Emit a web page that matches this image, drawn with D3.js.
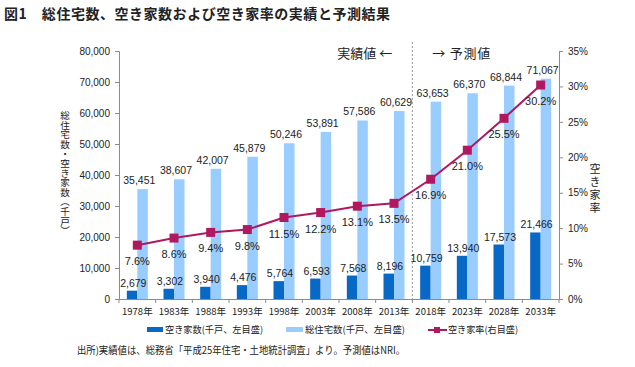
<!DOCTYPE html>
<html>
<head>
<meta charset="utf-8">
<script src="https://cdn.jsdelivr.net/npm/d3@7"></script>
<style>
body { margin: 0; background: #fff; }
text { font-family: "Noto Sans CJK JP", "Noto Sans", sans-serif; }
</style>
</head>
<body>
<div class="chart-area"></div>
<script>
// data
let years = ["1978年","1983年","1988年","1993年","1998年","2003年","2008年","2013年","2018年","2023年","2028年","2033年"];
let vacant = [2679, 3302, 3940, 4476, 5764, 6593, 7568, 8196, 10759, 13940, 17573, 21466];
let total = [35451, 38607, 42007, 45879, 50246, 53891, 57586, 60629, 63653, 66370, 68844, 71067];
let rate = [7.6, 8.6, 9.4, 9.8, 11.5, 12.2, 13.1, 13.5, 16.9, 21.0, 25.5, 30.2];
let leftTicks = [0, 10000, 20000, 30000, 40000, 50000, 60000, 70000, 80000];
let rightTicks = [0, 5, 10, 15, 20, 25, 30, 35];

let W = 635, H = 367;
let plotL = 119, plotR = 559, plotT = 51, plotB = 299;

let svg = d3.select(".chart-area").append("svg")
    .attr("width", W)
    .attr("height", H);

let x = d3.scaleBand().domain(years).range([plotL, plotR]);
let yL = d3.scaleLinear().domain([0, 80000]).range([plotB, plotT]);
let yR = d3.scaleLinear().domain([0, 35]).range([plotB, plotT]);

let darkBlue = "#0868c6", lightBlue = "#99ccff", lineCol = "#b0185f";
let axisCol = "#8c8c8c";
let numFont = "Arial, 'Liberation Sans', sans-serif";

// title
svg.append("text")
    .attr("x", 4).attr("y", 19)
    .attr("font-size", 14).attr("font-weight", "bold").attr("fill", "#222")
    .attr("textLength", 386).attr("lengthAdjust", "spacing")
    .text("図1　総住宅数、空き家数および空き家率の実績と予測結果");

// left axis
let gL = svg.append("g").attr("transform", "translate(" + plotL + ",0)")
    .call(d3.axisLeft(yL).tickValues(leftTicks).tickSize(4).tickPadding(5).tickFormat(d3.format(",")));
gL.selectAll("text").attr("font-size", 10).attr("fill", "#222").style("font-family", numFont);

// right axis
let gR = svg.append("g").attr("transform", "translate(" + plotR + ",0)")
    .call(d3.axisRight(yR).tickValues(rightTicks).tickSize(4).tickPadding(5).tickFormat(d => d + "%"));
gR.selectAll("text").attr("font-size", 10).attr("fill", "#222").style("font-family", numFont);

// x axis
let gX = svg.append("g").attr("transform", "translate(0," + plotB + ")")
    .call(d3.axisBottom(x).tickSize(0).tickPadding(9));
gX.selectAll("text").attr("font-size", 9.5).attr("fill", "#222");
gX.selectAll(".tick").each(function (d, i) {
    d3.select(this).append("line")
        .attr("x1", x.bandwidth() / 2).attr("x2", x.bandwidth() / 2)
        .attr("y1", 0).attr("y2", 4)
        .attr("stroke", axisCol);
});
gX.append("line").attr("x1", plotL).attr("x2", plotL).attr("y1", 0).attr("y2", 4).attr("stroke", axisCol);

[gL, gR, gX].forEach(function (g) {
    g.select(".domain").attr("stroke", axisCol);
    g.selectAll(".tick line").attr("stroke", axisCol);
});

// divider between actual and forecast
let divX = x(years[8]);
svg.append("line")
    .attr("x1", divX).attr("x2", divX)
    .attr("y1", 42).attr("y2", plotB)
    .attr("stroke", "#999").attr("stroke-dasharray", "2,2");

svg.append("text").attr("x", divX - 20).attr("y", 58).attr("text-anchor", "end")
    .attr("font-size", 13).attr("fill", "#222")
    .attr("textLength", 55).attr("lengthAdjust", "spacing").text("実績値 ←");
svg.append("text").attr("x", divX + 20).attr("y", 58).attr("text-anchor", "start")
    .attr("font-size", 13).attr("fill", "#222")
    .attr("textLength", 58).attr("lengthAdjust", "spacing").text("→ 予測値");

let barW = 10.5;

// vacant bars
svg.selectAll(".bar-v").data(vacant).enter().append("rect")
    .attr("x", (d, i) => x(years[i]) + x.bandwidth() / 2 - barW)
    .attr("y", d => yL(d))
    .attr("width", barW)
    .attr("height", d => plotB - yL(d))
    .attr("fill", darkBlue);

// total bars
svg.selectAll(".bar-t").data(total).enter().append("rect")
    .attr("x", (d, i) => x(years[i]) + x.bandwidth() / 2)
    .attr("y", d => yL(d))
    .attr("width", barW)
    .attr("height", d => plotB - yL(d))
    .attr("fill", lightBlue);

// labels
svg.selectAll(".lab-v").data(vacant).enter().append("text")
    .attr("x", (d, i) => x(years[i]) + x.bandwidth() / 2 - 4)
    .attr("y", d => yL(d) - 4)
    .attr("text-anchor", "middle").attr("font-size", 10.5).attr("fill", "#222")
    .style("font-family", numFont)
    .text(d => d3.format(",")(d));

svg.selectAll(".lab-t").data(total).enter().append("text")
    .attr("x", (d, i) => x(years[i]) + x.bandwidth() / 2 + 2)
    .attr("y", d => yL(d) - 5)
    .attr("text-anchor", "middle").attr("font-size", 10.5).attr("fill", "#222")
    .style("font-family", numFont)
    .text(d => d3.format(",")(d));

// rate line
let line = d3.line()
    .x((d, i) => x(years[i]) + x.bandwidth() / 2)
    .y(d => yR(d));
svg.append("path").datum(rate)
    .attr("d", line)
    .attr("fill", "none").attr("stroke", lineCol).attr("stroke-width", 2);

svg.selectAll(".mk").data(rate).enter().append("rect")
    .attr("x", (d, i) => x(years[i]) + x.bandwidth() / 2 - 4.5)
    .attr("y", d => yR(d) - 4.5)
    .attr("width", 9).attr("height", 9)
    .attr("fill", lineCol);

svg.selectAll(".lab-r").data(rate).enter().append("text")
    .attr("x", (d, i) => x(years[i]) + x.bandwidth() / 2)
    .attr("y", d => yR(d) + 20)
    .attr("text-anchor", "middle").attr("font-size", 11).attr("fill", "#222")
    .style("font-family", numFont)
    .text(d => d.toFixed(1) + "%");

// axis titles (vertical)
svg.append("text")
    .attr("x", 65).attr("y", 173)
    .attr("text-anchor", "middle")
    .attr("font-size", 9.6).attr("fill", "#222")
    .style("writing-mode", "vertical-rl")
    .text("総住宅数・空き家数（千戸）");

svg.append("text")
    .attr("x", 595).attr("y", 189)
    .attr("text-anchor", "middle")
    .attr("font-size", 11).attr("fill", "#222")
    .style("writing-mode", "vertical-rl")
    .style("letter-spacing", "2px")
    .text("空き家率");

// legend
let lg = svg.append("g");
lg.append("rect").attr("x", 147).attr("y", 327).attr("width", 16).attr("height", 5).attr("fill", darkBlue);
lg.append("text").attr("x", 165).attr("y", 333).attr("font-size", 9.5).attr("fill", "#222")
    .attr("textLength", 98).attr("lengthAdjust", "spacingAndGlyphs").text("空き家数(千戸、左目盛)");
lg.append("rect").attr("x", 286).attr("y", 327).attr("width", 17).attr("height", 5).attr("fill", lightBlue);
lg.append("text").attr("x", 305).attr("y", 333).attr("font-size", 9.5).attr("fill", "#222")
    .attr("textLength", 100).attr("lengthAdjust", "spacingAndGlyphs").text("総住宅数(千戸、左目盛)");
lg.append("line").attr("x1", 428).attr("x2", 447).attr("y1", 330).attr("y2", 330).attr("stroke", lineCol).attr("stroke-width", 2);
lg.append("rect").attr("x", 434).attr("y", 327).attr("width", 6).attr("height", 6).attr("fill", lineCol);
lg.append("text").attr("x", 448).attr("y", 333).attr("font-size", 9.5).attr("fill", "#222")
    .attr("textLength", 70).attr("lengthAdjust", "spacingAndGlyphs").text("空き家率(右目盛)");

// footnote
svg.append("text").attr("x", 77).attr("y", 354).attr("font-size", 10).attr("fill", "#222")
    .attr("textLength", 328).attr("lengthAdjust", "spacingAndGlyphs")
    .text("出所)実績値は、総務省「平成25年住宅・土地統計調査」より。予測値はNRI。");
</script>
</body>
</html>
